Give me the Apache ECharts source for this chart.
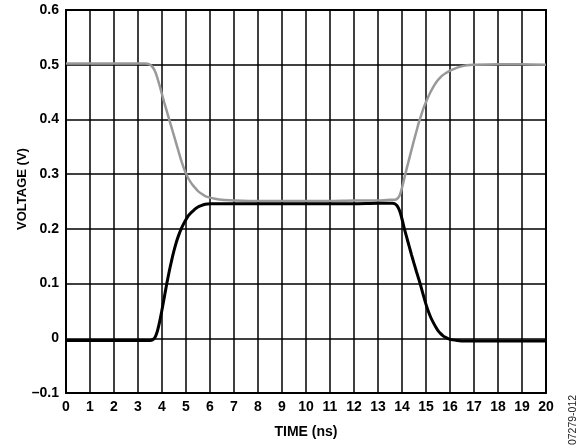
<!DOCTYPE html>
<html>
<head>
<meta charset="utf-8">
<script src="https://cdn.jsdelivr.net/npm/echarts@6/dist/echarts.min.js"></script>
<style>
  html, body { margin: 0; padding: 0; background: #fff; }
  #chart { width: 584px; height: 448px; }
</style>
</head>
<body>
<div id="chart"></div>
<script>
// Input (gray) and output (black) voltage traces, time in ns, voltage in V
const inputTime = [0, 1, 2, 3, 3.3, 3.5, 3.6, 3.7, 3.8, 3.9, 4.0, 4.1, 4.2, 4.3, 4.4, 4.5, 4.6, 4.7, 4.8, 4.9, 5.0, 5.1, 5.2, 5.3, 5.4, 5.5, 5.65, 5.8, 6.0, 6.2, 6.5, 7, 8, 9, 10, 11, 12, 13, 13.5, 13.7, 13.8, 13.9, 14.0, 14.1, 14.2, 14.3, 14.4, 14.5, 14.6, 14.7, 14.8, 14.9, 15.0, 15.1, 15.2, 15.3, 15.4, 15.5, 15.6, 15.7, 15.8, 16.0, 16.2, 16.4, 16.7, 17, 18, 19, 20];
const inputVolt = [0.502, 0.502, 0.502, 0.502, 0.502, 0.500, 0.496, 0.489, 0.477, 0.462, 0.446, 0.430, 0.415, 0.400, 0.385, 0.370, 0.355, 0.340, 0.325, 0.312, 0.301, 0.292, 0.285, 0.279, 0.274, 0.269, 0.264, 0.260, 0.257, 0.255, 0.253, 0.252, 0.251, 0.251, 0.251, 0.251, 0.252, 0.252, 0.253, 0.253, 0.255, 0.261, 0.275, 0.293, 0.311, 0.328, 0.345, 0.362, 0.378, 0.394, 0.408, 0.421, 0.432, 0.442, 0.451, 0.459, 0.466, 0.472, 0.477, 0.481, 0.484, 0.489, 0.493, 0.496, 0.499, 0.500, 0.501, 0.501, 0.500];

const outputTime = [0, 1, 2, 3, 3.5, 3.6, 3.7, 3.8, 3.9, 4.0, 4.1, 4.2, 4.3, 4.4, 4.5, 4.6, 4.7, 4.8, 4.9, 5.0, 5.1, 5.2, 5.3, 5.4, 5.5, 5.6, 5.8, 6.0, 6.5, 7, 8, 9, 10, 11, 12, 13, 13.5, 13.6, 13.7, 13.8, 13.9, 14.0, 14.1, 14.2, 14.3, 14.4, 14.5, 14.6, 14.7, 14.8, 14.9, 15.0, 15.1, 15.2, 15.3, 15.4, 15.5, 15.6, 15.7, 15.8, 16.0, 16.3, 16.6, 17, 18, 19, 20];
const outputVolt = [-0.004, -0.004, -0.004, -0.004, -0.004, -0.003, 0.001, 0.012, 0.030, 0.052, 0.076, 0.100, 0.122, 0.142, 0.160, 0.176, 0.189, 0.200, 0.209, 0.217, 0.224, 0.229, 0.233, 0.237, 0.240, 0.242, 0.245, 0.246, 0.246, 0.246, 0.246, 0.246, 0.246, 0.246, 0.246, 0.247, 0.247, 0.247, 0.246, 0.242, 0.233, 0.218, 0.200, 0.184, 0.168, 0.152, 0.137, 0.122, 0.108, 0.093, 0.077, 0.062, 0.049, 0.038, 0.029, 0.021, 0.014, 0.009, 0.005, 0.002, -0.002, -0.004, -0.005, -0.005, -0.005, -0.005, -0.005];

const xTicks = { min: 0, max: 20, step: 1 };
const yTicks = { min: -0.1, max: 0.6, step: 0.1 };

const pairs = (t, v) => t.map((x, i) => [x, v[i]]);

const fontFamily = '"Liberation Sans", Arial, sans-serif';
const chart = echarts.init(document.getElementById('chart'));

chart.setOption({
  animation: false,
  backgroundColor: '#fff',
  grid: {
    left: 66, right: 38, top: 10, bottom: 55,
    show: true, borderColor: '#000', borderWidth: 2
  },
  xAxis: {
    type: 'value',
    min: xTicks.min, max: xTicks.max, interval: xTicks.step,
    name: 'TIME (ns)', nameLocation: 'middle', nameGap: 32,
    nameTextStyle: { fontFamily, fontWeight: 'bold', fontSize: 14, color: '#000' },
    axisLine: { show: false },
    axisTick: { show: false },
    axisLabel: { fontFamily, fontWeight: 'bold', fontSize: 14, color: '#000', margin: 7 },
    splitLine: { show: true, lineStyle: { color: '#000', width: 1.5 } }
  },
  yAxis: {
    type: 'value',
    min: yTicks.min, max: yTicks.max, interval: yTicks.step,
    axisLine: { show: false },
    axisTick: { show: false },
    axisLabel: {
      fontFamily, fontWeight: 'bold', fontSize: 14, color: '#000', margin: 7,
      formatter: v => {
        const r = Math.round(v * 10) / 10;
        if (r === 0) return '0';
        return r < 0 ? '\u2013' + Math.abs(r).toFixed(1) : r.toFixed(1);
      }
    },
    splitLine: { show: true, lineStyle: { color: '#000', width: 1.5 } }
  },
  graphic: [
    {
      type: 'text',
      x: 22, y: 189,
      rotation: Math.PI / 2,
      style: {
        text: 'VOLTAGE (V)', fontFamily, fontWeight: 'bold', fontSize: 13,
        fill: '#000', align: 'center', verticalAlign: 'middle'
      }
    },
    {
      type: 'text',
      x: 573, y: 420,
      rotation: Math.PI / 2,
      style: {
        text: '07279-012', fontFamily, fontSize: 10.5,
        fill: '#222', align: 'center', verticalAlign: 'middle'
      }
    }
  ],
  series: [
    {
      type: 'line', data: pairs(inputTime, inputVolt),
      showSymbol: false, smooth: 0.25,
      lineStyle: { color: '#999999', width: 2.5 }, z: 3
    },
    {
      type: 'line', data: pairs(outputTime, outputVolt),
      showSymbol: false, smooth: 0.25,
      lineStyle: { color: '#000000', width: 3 }, z: 4
    }
  ]
});
</script>
</body>
</html>
